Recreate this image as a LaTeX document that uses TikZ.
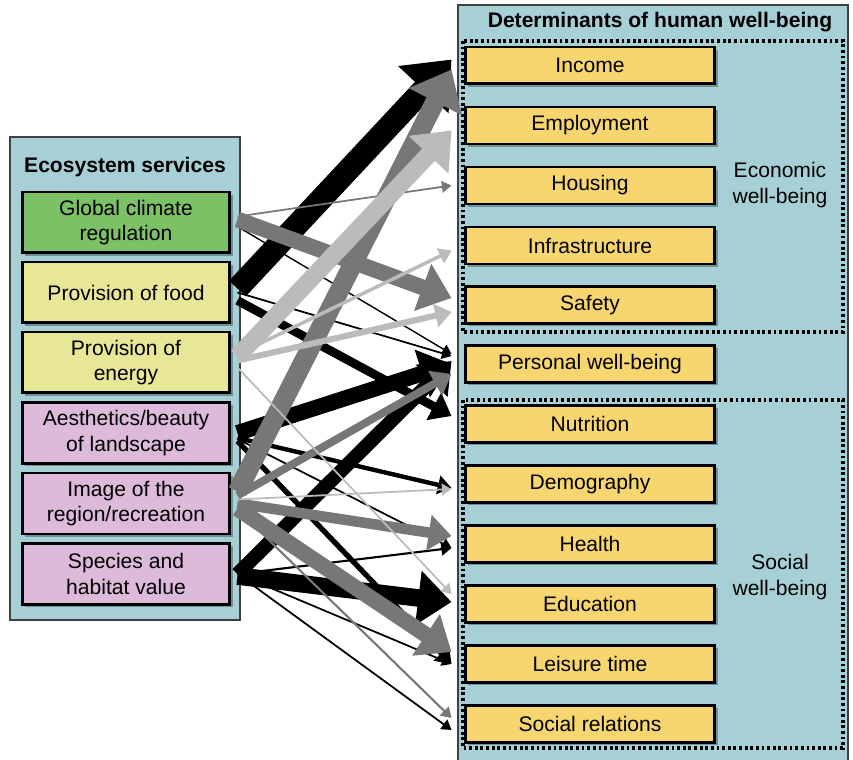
\documentclass[tikz,border=0pt]{standalone}
\usepackage{fontspec}
\setmainfont{Liberation Sans}
\usepackage{tikz}
\usetikzlibrary{shadows}
\usetikzlibrary{arrows.meta,shapes}
\usetikzlibrary{calc}
\definecolor{panelteal}{HTML}{A7D0D6}
\definecolor{shadowteal}{HTML}{6F9196}
\definecolor{climgreen}{HTML}{7DC166}
\definecolor{provyellow}{HTML}{E8E797}
\definecolor{landpink}{HTML}{DDB9DA}
\definecolor{detyellow}{HTML}{F7D66F}
\definecolor{flowgray}{HTML}{777777}
\definecolor{flowlight}{HTML}{BBBBBB}
\tikzstyle{panel}=[draw=black!75,fill=panelteal,line width=0.8pt]
\tikzstyle{service}=[draw,line width=1.7pt,minimum width=4.16cm,minimum height=1.22cm,align=center,font=\fontsize{12}{14.5}\selectfont,drop shadow={shadow xshift=1.6pt,shadow yshift=-1.6pt,fill=shadowteal,opacity=1}]
\tikzstyle{determinant}=[service,fill=detyellow,minimum width=5cm,minimum height=0.74cm]
\tikzstyle{group}=[line width=2pt,dash pattern=on 1.6pt off 1.6pt]
\tikzstyle{heading} = [font=\fontsize{12}{14.5}\selectfont\bfseries]
\tikzstyle{side} = [align=center,font=\fontsize{12}{14.5}\selectfont]
\tikzstyle{flow} = [-{Triangle[length=4pt 1.5,width=4pt 2.6]}]

\begin{document}
\begin{tikzpicture}[x=0.02cm,y=-0.02cm]
    \useasboundingbox (0,0) rectangle (853,760);
    % The two panels
    \draw[panel] (10,137) rectangle (240,620);
    \draw[panel] (458,5) rectangle (848,765);
    \node[heading] (services) at (125,167) {Ecosystem services};
    \node[heading] (determinants) at (660,22) {Determinants of human well-being};

    % Ecosystem services on the left
    \foreach \pos/ \name/ \col/ \txt in {{(126,222.5)/climate/climgreen/{Global climate\\regulation}},
        {(126,292.5)/food/provyellow/{Provision of food}},{(126,362.5)/energy/provyellow/{Provision of\\energy}},
        {(126,433)/beauty/landpink/{Aesthetics/beauty\\of landscape}},{(126,503.5)/image/landpink/{Image of the\\region/recreation}},
        {(126,574)/species/landpink/{Species and\\habitat value}}}
        \node[service,fill=\col] (\name) at \pos {\txt};

    % Determinants on the right
    \draw[group] (463,41) rectangle (843,332);
    \draw[group] (463,400) rectangle (843,748);
    \foreach \pos/ \name/ \txt in {{(590,65.5)/income/Income},{(590,125.5)/employment/Employment},
        {(590,185.5)/housing/Housing},{(590,245.5)/infrastructure/Infrastructure},{(590,305)/safety/Safety},
        {(590,364)/personal/Personal well-being},{(590,424)/nutrition/Nutrition},{(590,484)/demography/Demography},
        {(590,544)/health/Health},{(590,604)/education/Education},{(590,664)/leisure/Leisure time},
        {(590,724)/relations/Social relations}}
        \node[determinant] (\name) at \pos {\txt};
    \node[side] (economic) at (780,185) {Economic\\well-being};
    \node[side] (social) at (780,577) {Social\\well-being};

    % Connect services with determinants, width = strength
    \foreach \source/ \sy/ \dest/ \dy/ \w/ \col in {food/-4/income/-6/13/black, food/8/nutrition/-8/5/black,
        food/0/personal/-8/1/black, climate/4/personal/-10/0.8/black, beauty/0/personal/0/9/black,
        beauty/5/demography/4/2.5/black, beauty/6/health/4/1/black, beauty/8/leisure/0/3/black,
        species/0/personal/-3/8/black, species/2/education/-2/10/black, species/0/health/4/1.2/black,
        species/0/relations/6/1/black, species/0/leisure/0/1/black}
        \draw[flow,line width=\w pt,color=\col] ($(\source.east)+(6,\sy)$) -- ($(\dest.west)+(-12,\dy)$);

    \foreach \source/ \sy/ \dest/ \dy/ \w/ \col in {image/-12/income/4/11/flowgray, climate/-3/safety/-7/9/flowgray,
        climate/-6/housing/0/1/flowgray, image/-8/personal/10/4.5/flowgray, image/0/health/-8/6/flowgray,
        image/5/leisure/-12/9/flowgray, image/6/relations/-6/1.2/flowgray}
        \draw[flow,line width=\w pt,color=\col] ($(\source.east)+(6,\sy)$) -- ($(\dest.west)+(-12,\dy)$);

    \foreach \source/ \sy/ \dest/ \dy/ \w/ \col in {energy/-6/employment/5/10/flowlight, energy/-2/safety/7/3.5/flowlight,
        energy/-8/infrastructure/5/2/flowlight, energy/5/education/-10/1/flowlight, image/-4/demography/5/1/flowlight}
        \draw[flow,line width=\w pt,color=\col] ($(\source.east)+(6,\sy)$) -- ($(\dest.west)+(-12,\dy)$);
\end{tikzpicture}
\end{document}
